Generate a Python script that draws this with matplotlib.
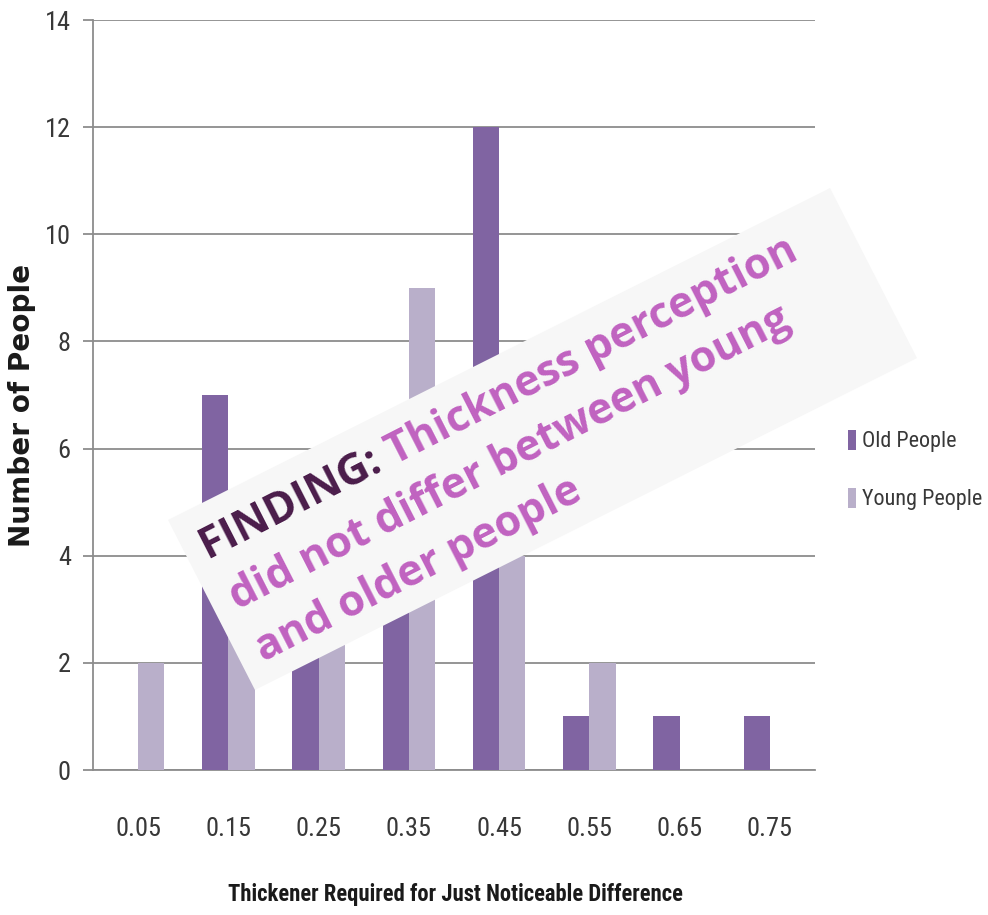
import math
import matplotlib
matplotlib.use('Agg')
import matplotlib.pyplot as plt
import numpy as np
from matplotlib.patches import Polygon
from matplotlib import font_manager as fm

# ---------------- data ----------------
categories = ['0.05', '0.15', '0.25', '0.35', '0.45', '0.55', '0.65', '0.75']
old_people = [0, 7, 3, 4, 12, 1, 1, 1]
young_people = [2, 3, 3, 9, 4, 2, 0, 0]
series_names = ['Old People', 'Young People']
y_ticks = [0, 2, 4, 6, 8, 10, 12, 14]
x_label = 'Thickener Required for Just Noticeable Difference'
y_label = 'Number of People'
finding_head = 'FINDING: '
finding_rest = 'Thickness perception'
finding_lines = ['did not differ between young', 'and older people']

# ---------------- fonts ----------------
def pick_narrow():
    names = {}
    for f in fm.fontManager.ttflist:
        names.setdefault(f.name, []).append(f)
    for cand in ['Liberation Sans Narrow', 'Roboto Condensed', 'Open Sans Condensed',
                 'Noto Sans Condensed', 'DejaVu Sans Condensed', 'Noto Sans SemiCondensed']:
        if cand in names:
            return {'family': [cand, 'DejaVu Sans']}
    for fam in ['Noto Sans', 'DejaVu Sans', 'Open Sans', 'Roboto']:
        for f in names.get(fam, []):
            st = f.stretch
            if (isinstance(st, str) and 'condensed' in st) or (isinstance(st, (int, float)) and st < 500):
                return {'family': [fam], 'stretch': 'condensed'}
    return {'family': ['Liberation Sans', 'DejaVu Sans']}

NARROW = pick_narrow()
BOXFONT = ['Open Sans', 'DejaVu Sans']

# ---------------- style ----------------
W, H = 988, 915
OLD_C = '#8064a2'
YOUNG_C = '#b9afca'
GRID_C = '#8c8c8c'
TXT_C = '#383838'

fig = plt.figure(figsize=(W / 100, H / 100), dpi=100)
fig.patch.set_facecolor('white')
renderer = fig.canvas.get_renderer()

def text_width(s, size, **kw):
    t = fig.text(0, 0, s, fontsize=size, **kw)
    w = t.get_window_extent(renderer).width
    t.remove()
    return w

def fit(s, target, **kw):
    return 20 * target / text_width(s, 20, **kw)

tick_fs = min(fit('0.05', 46, **NARROW), 24)
leg_fs = min(fit('Young People', 120, **NARROW), 24)
xl_fs = fit(x_label, 455, weight='bold', **NARROW)
yl_fs = fit(y_label, 282, family=['DejaVu Sans'], weight='bold')

ax = fig.add_axes([93 / W, (H - 770) / H, (815 - 93) / W, 750 / H])

x = np.arange(len(categories))
bw = 0.29
ax.bar(x - bw / 2, old_people, width=bw, color=OLD_C, label=series_names[0], zorder=3)
ax.bar(x + bw / 2, young_people, width=bw, color=YOUNG_C, label=series_names[1], zorder=3)

ax.set_xlim(-0.5, len(categories) - 0.5)
ax.set_ylim(0, 14)
ax.set_yticks(y_ticks)
ax.set_xticks(x, categories)
ax.yaxis.grid(True, color=GRID_C, linewidth=1.3, zorder=0)
ax.set_axisbelow(True)
for s in ['top', 'right']:
    ax.spines[s].set_visible(False)
for s in ['left', 'bottom']:
    ax.spines[s].set_color(GRID_C)
    ax.spines[s].set_linewidth(1.3)
ax.tick_params(axis='y', length=7, width=1.3, color=GRID_C, pad=9,
               labelsize=tick_fs, labelcolor=TXT_C)
ax.tick_params(axis='x', length=0, pad=34, labelsize=tick_fs, labelcolor=TXT_C)
for lab in ax.get_xticklabels() + ax.get_yticklabels():
    lab.set_family(NARROW['family'])
    if 'stretch' in NARROW:
        lab.set_stretch(NARROW['stretch'])

fig.text(455 / W, 1 - 895 / H, x_label, ha='center', va='center',
         fontsize=xl_fs, color='#1a1a1a', weight='bold', **NARROW)
fig.text(22 / W, 1 - 405 / H, y_label, ha='center', va='center', rotation=90,
         fontsize=yl_fs, family=['DejaVu Sans'], weight='bold', color='#1a1a1a')

prop = {'size': leg_fs, 'family': NARROW['family']}
if 'stretch' in NARROW:
    prop['stretch'] = NARROW['stretch']
leg = ax.legend(loc='center left', bbox_to_anchor=(848 / W, 1 - 470 / H),
                bbox_transform=fig.transFigure, frameon=False,
                handlelength=0.35, handleheight=1.0, handletextpad=0.3,
                labelspacing=1.6, borderpad=0, borderaxespad=0, prop=prop)
for t in leg.get_texts():
    t.set_color(TXT_C)

# ---------------- annotation box ----------------
def fig_pt(px, py_img):
    return (px / W, 1 - py_img / H)

corners = [(168, 520), (830, 188), (917, 358), (255, 690)]
box = Polygon([fig_pt(*c) for c in corners], closed=True,
              transform=fig.transFigure, facecolor='#f7f7f7',
              edgecolor='none', zorder=10)
fig.add_artist(box)

angle = 27.0
ca, sa = math.cos(math.radians(angle)), math.sin(math.radians(angle))

fs = fit(finding_head + finding_rest, 664, family=BOXFONT, weight='bold')
head_w = text_width(finding_head, fs, family=BOXFONT, weight='bold')

start = np.array([208.0, H - 560.0])  # pixel coords, y up
along = np.array([ca, sa])
perp = np.array([sa, -ca])
spacing = 58.0

def put(p, s, color):
    fig.text(p[0] / W, p[1] / H, s, fontsize=fs, family=BOXFONT, weight='bold',
             color=color, rotation=angle, rotation_mode='anchor',
             ha='left', va='baseline', zorder=11)

put(start, finding_head, '#4a1c4a')
put(start + along * head_w, finding_rest, '#c062c0')
for i, line in enumerate(finding_lines):
    put(start + perp * spacing * (i + 1) + along * 3, line, '#c062c0')

fig.savefig('out.png', dpi=100, facecolor='white')
